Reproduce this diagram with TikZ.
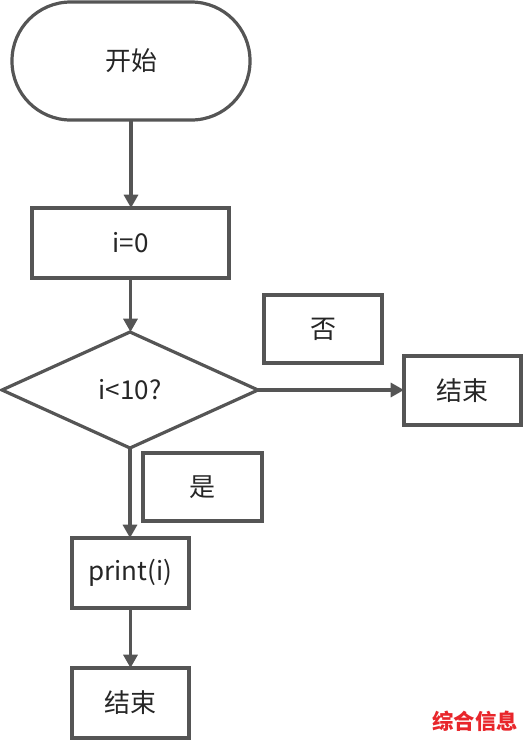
\documentclass[tikz,border=0pt]{standalone}
\usepackage{fontspec}
\setmainfont{Noto Sans CJK SC}
\usetikzlibrary{shapes.geometric,arrows.meta}
\definecolor{ln}{HTML}{555555}
\definecolor{wm}{HTML}{E8262B}
\begin{document}
\begin{tikzpicture}[x=0.75pt,y=-0.75pt,
  every node/.style={font=\fontsize{19.5}{23}\selectfont, text=black!85},
  boxnode/.style={draw=ln, line width=2.4pt, fill=white, rectangle, inner sep=0pt, outer sep=0pt, minimum width=#1},
  boxnode/.default=88pt,
  termnode/.style={draw=ln, line width=2.4pt, rectangle, rounded corners=44pt, minimum width=178.5pt, minimum height=88.5pt, inner sep=0pt, outer sep=0pt},
  decnode/.style={draw=ln, line width=2.4pt, diamond, aspect=2.2, minimum width=192pt, minimum height=87pt, inner sep=0pt, outer sep=0pt},
  flow/.style={draw=ln, line width=2.4pt, -{Triangle[width=10.5pt,length=10pt]}}]
\useasboundingbox (0,0) rectangle (522,740);
\node[termnode] (start) at (131,61) {开始};
\node[boxnode=147.75pt, minimum height=52.5pt] (init) at (130.5,243) {i=0};
\node[decnode] (cond) at (130,390) {i<10?};
\node[boxnode=88.5pt, minimum height=51pt] (no) at (323,329) {否};
\node[boxnode=87.75pt, minimum height=51.75pt] (endr) at (462.5,390.5) {结束};
\node[boxnode=89.25pt, minimum height=51pt] (yes) at (202.5,487) {是};
\node[boxnode=87.75pt, minimum height=52.5pt] (pr) at (130.5,573) {print(i)};
\node[boxnode=87.75pt, minimum height=52.5pt] (endb) at (130.5,703) {结束};
\node[font=\fontsize{16}{19}\bfseries\selectfont, text=wm] (wmk) at (475,721) {综合信息};
\draw[flow] (start.south) -- (start.south |- init.north);
\draw[flow] (init.south) -- (init.south |- cond.north);
\draw[flow] (cond.east) -- (endr.west |- cond.east);
\draw[flow] (cond.south) -- (cond.south |- pr.north);
\draw[flow] (pr.south) -- (pr.south |- endb.north);
\end{tikzpicture}
\end{document}
